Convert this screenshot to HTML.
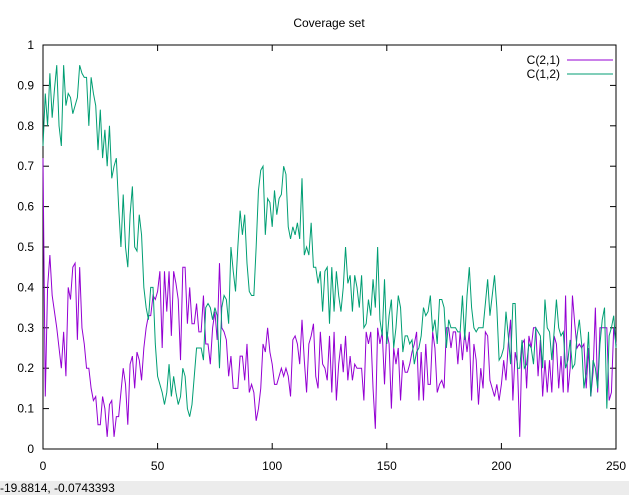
<!DOCTYPE html>
<html><head><meta charset="utf-8"><style>
html,body{margin:0;padding:0;background:#fff;width:629px;height:495px;overflow:hidden;font-family:"Liberation Sans",sans-serif;}
svg{position:absolute;left:0;top:0}
#status{position:absolute;left:0;top:481px;width:629px;height:14px;background:#ececec;font-size:12px;line-height:14px;color:#000;}
</style></head><body>
<svg id="chart" width="629" height="481" xmlns="http://www.w3.org/2000/svg" font-family="Liberation Sans, sans-serif" font-size="12">
<text x="329" y="27" text-anchor="middle">Coverage set</text>
<g id="axes"></g>
<g id="series"></g>
<g>
<text x="560" y="64" text-anchor="end">C(2,1)</text>
<line x1="567" y1="60" x2="613" y2="60" stroke="#9400d3" stroke-width="1"/>
<text x="560" y="78" text-anchor="end">C(1,2)</text>
<line x1="567" y1="74" x2="613" y2="74" stroke="#009e73" stroke-width="1"/>
</g>
</svg>
<div id="status">-19.8814, -0.0743393</div>
<script>
const xTicks=[0,50,100,150,200,250];
const yTicks=[0,0.1,0.2,0.3,0.4,0.5,0.6,0.7,0.8,0.9,1];
const yTickLabels=["0","0.1","0.2","0.3","0.4","0.5","0.6","0.7","0.8","0.9","1"];
const c21=[0.72,0.13,0.4,0.48,0.38,0.34,0.3,0.25,0.2,0.29,0.18,0.4,0.37,0.45,0.46,0.27,0.45,0.3,0.26,0.2,0.2,0.15,0.12,0.13,0.06,0.06,0.13,0.1,0.03,0.11,0.12,0.03,0.08,0.08,0.14,0.2,0.16,0.06,0.21,0.23,0.15,0.24,0.22,0.17,0.25,0.3,0.33,0.33,0.38,0.37,0.39,0.44,0.25,0.44,0.34,0.44,0.28,0.44,0.41,0.37,0.22,0.45,0.45,0.31,0.4,0.31,0.31,0.36,0.29,0.29,0.38,0.26,0.26,0.21,0.3,0.34,0.27,0.46,0.3,0.29,0.27,0.18,0.23,0.15,0.15,0.15,0.23,0.23,0.17,0.26,0.14,0.16,0.14,0.07,0.1,0.15,0.26,0.24,0.3,0.24,0.21,0.16,0.16,0.18,0.2,0.18,0.2,0.18,0.13,0.27,0.28,0.26,0.21,0.32,0.22,0.14,0.26,0.28,0.31,0.18,0.15,0.29,0.21,0.2,0.17,0.28,0.14,0.29,0.12,0.21,0.26,0.19,0.28,0.17,0.23,0.17,0.21,0.2,0.2,0.2,0.12,0.29,0.26,0.29,0.15,0.05,0.3,0.26,0.29,0.16,0.29,0.26,0.1,0.25,0.21,0.25,0.12,0.22,0.19,0.19,0.21,0.24,0.26,0.29,0.12,0.24,0.12,0.26,0.16,0.16,0.29,0.25,0.14,0.16,0.17,0.15,0.3,0.3,0.25,0.29,0.29,0.21,0.29,0.22,0.29,0.24,0.29,0.12,0.26,0.22,0.11,0.2,0.15,0.29,0.28,0.17,0.15,0.13,0.16,0.12,0.16,0.22,0.17,0.26,0.32,0.12,0.24,0.21,0.03,0.26,0.27,0.15,0.28,0.25,0.3,0.3,0.18,0.27,0.13,0.22,0.14,0.22,0.14,0.28,0.26,0.15,0.23,0.14,0.38,0.14,0.2,0.38,0.31,0.25,0.26,0.25,0.26,0.15,0.25,0.13,0.19,0.35,0.14,0.3,0.3,0.3,0.3,0.12,0.14,0.3,0.26];
const c12=[0.75,0.88,0.8,0.93,0.82,0.89,0.95,0.8,0.75,0.95,0.85,0.88,0.87,0.83,0.85,0.87,0.95,0.93,0.92,0.92,0.8,0.92,0.88,0.85,0.74,0.84,0.72,0.79,0.7,0.8,0.67,0.7,0.72,0.6,0.5,0.63,0.5,0.45,0.58,0.65,0.5,0.49,0.58,0.53,0.4,0.35,0.32,0.4,0.4,0.26,0.18,0.16,0.14,0.11,0.14,0.21,0.13,0.18,0.14,0.11,0.13,0.2,0.18,0.1,0.08,0.11,0.18,0.25,0.25,0.25,0.22,0.35,0.36,0.35,0.32,0.35,0.33,0.2,0.35,0.38,0.37,0.31,0.5,0.44,0.39,0.5,0.59,0.53,0.58,0.46,0.39,0.38,0.38,0.5,0.64,0.69,0.7,0.53,0.62,0.61,0.55,0.64,0.58,0.62,0.63,0.7,0.68,0.55,0.52,0.55,0.53,0.56,0.52,0.67,0.48,0.5,0.48,0.56,0.45,0.45,0.41,0.44,0.34,0.44,0.45,0.31,0.45,0.34,0.44,0.38,0.34,0.4,0.5,0.41,0.43,0.34,0.43,0.4,0.35,0.43,0.3,0.31,0.37,0.33,0.42,0.35,0.5,0.32,0.28,0.42,0.26,0.33,0.37,0.25,0.3,0.38,0.35,0.24,0.28,0.28,0.26,0.27,0.21,0.24,0.25,0.28,0.35,0.33,0.34,0.38,0.29,0.32,0.26,0.37,0.37,0.35,0.25,0.32,0.3,0.3,0.3,0.29,0.29,0.38,0.27,0.38,0.45,0.35,0.3,0.29,0.3,0.3,0.3,0.36,0.42,0.33,0.38,0.43,0.35,0.22,0.23,0.25,0.34,0.28,0.21,0.36,0.36,0.2,0.2,0.27,0.2,0.21,0.26,0.25,0.21,0.3,0.29,0.28,0.2,0.37,0.3,0.29,0.22,0.29,0.37,0.3,0.28,0.29,0.2,0.22,0.27,0.2,0.21,0.28,0.32,0.26,0.15,0.19,0.29,0.13,0.22,0.2,0.15,0.26,0.32,0.35,0.1,0.28,0.3,0.33,0.25];
const L=43,R=616,T=45,B=449,NS="http://www.w3.org/2000/svg";
const xs=v=>L+(v-0)/(250-0)*(R-L);
const ys=v=>B-(v-0)/(1-0)*(B-T);
function mk(tag,attrs,parent){const e=document.createElementNS(NS,tag);for(const k in attrs)e.setAttribute(k,attrs[k]);parent.appendChild(e);return e;}
const axes=document.getElementById('axes');
const frame=mk('rect',{x:L,y:T,width:R-L,height:B-T,fill:'none',stroke:'#000','stroke-width':1},axes);


xTicks.forEach(v=>{const x=xs(v);
 mk('line',{x1:x,y1:B,x2:x,y2:B-6,stroke:'#000'},axes);
 mk('line',{x1:x,y1:T,x2:x,y2:T+6,stroke:'#000'},axes);
 const t=mk('text',{x:x,y:B+21,'text-anchor':'middle'},axes);t.textContent=String(v);
 
 
});
yTicks.forEach((v,i)=>{const y=ys(v);
 mk('line',{x1:L,y1:y,x2:L+6,y2:y,stroke:'#000'},axes);
 mk('line',{x1:R,y1:y,x2:R-6,y2:y,stroke:'#000'},axes);
 const t=mk('text',{x:L-9,y:y+4,'text-anchor':'end'},axes);t.textContent=yTickLabels[i];
 
 
});
const sg=document.getElementById('series');
function line(data,color,name){const pts=data.map((v,i)=>xs(i).toFixed(2)+','+ys(v).toFixed(2)).join(' ');
 const p=mk('polyline',{points:pts,fill:'none',stroke:color,'stroke-width':1},sg);
 
 
}
line(c21,'#9400d3','series-c21-line');
line(c12,'#009e73','series-c12-line');
</script>
</body></html>
